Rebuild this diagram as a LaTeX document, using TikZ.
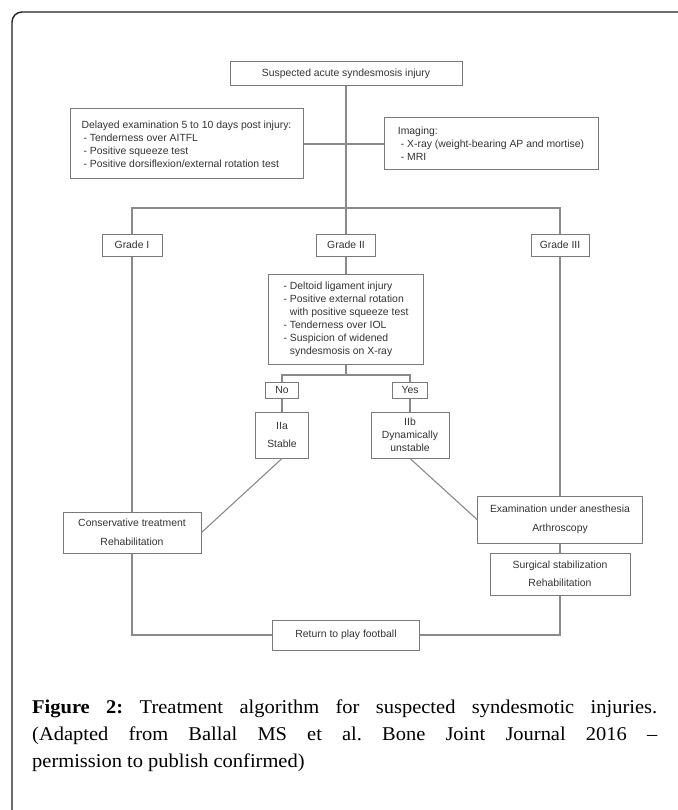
\documentclass[tikz,border=0pt]{standalone}
\usepackage{fontspec}
\setmainfont{Liberation Serif}
\newfontfamily\dfont{Liberation Sans}
\newfontfamily\capfont{Liberation Serif}[FakeStretch=1.05]
\definecolor{boxgray}{HTML}{7A7A7A}
\definecolor{linegray}{HTML}{8A8A8A}
\definecolor{txtgray}{HTML}{333333}
\definecolor{framec}{HTML}{222222}
\frenchspacing
\tikzset{
  box/.style={draw=boxgray, line width=1pt, fill=white, text=txtgray,
    font=\dfont\fontsize{10.4}{13}\selectfont, inner sep=0pt, align=center},
  lbox/.style={box, align=left},
  conn/.style={draw=linegray, line width=1.1pt},
  capline/.style={anchor=base west, inner sep=0pt, font=\capfont\fontsize{19.5}{27}\selectfont}
}
\begin{document}
\begin{tikzpicture}[x=1pt,y=1pt]
\useasboundingbox (0,0) rectangle (677,-810);
\fill[white] (0,0) rectangle (677,-810);
% frame
\draw[framec, line width=1.4pt, rounded corners=10pt] (678,-12) -- (12,-12) -- (12,-811);

% nodes
\node[box, minimum width=232pt, minimum height=24pt] (top) at (346,-74) {Suspected acute syndesmosis injury};
\node[lbox, minimum width=233pt, minimum height=70pt] (delay) at (186.5,-144) {Delayed examination 5 to 10 days post injury:\\\hspace{2pt}- Tenderness over AITFL\\\hspace{2pt}- Positive squeeze test\\\hspace{2pt}- Positive dorsiflexion/external rotation test};
\node[lbox, minimum width=214pt, minimum height=52pt] (img) at (491,-144) {Imaging:\\\hspace{3pt}- X-ray (weight-bearing AP and mortise)\\\hspace{3pt}- MRI};
\node[box, minimum width=60pt, minimum height=22pt] (g1) at (132,-245) {Grade I};
\node[box, minimum width=59pt, minimum height=22pt] (g2) at (346,-245) {Grade II};
\node[box, minimum width=58pt, minimum height=22pt] (g3) at (560,-245) {Grade III};
\node[lbox, minimum width=155pt, minimum height=90pt] (mid) at (346,-319) {- Deltoid ligament injury\\- Positive external rotation\\\phantom{- }with positive squeeze test\\- Tenderness over IOL\\- Suspicion of widened\\\phantom{- }syndesmosis on X-ray};
\node[box, minimum width=33pt, minimum height=16pt] (no) at (282,-390) {No};
\node[box, minimum width=35pt, minimum height=16pt] (yes) at (410,-390) {Yes};
\node[box, minimum width=53pt, minimum height=46pt] (iia) at (282,-435) {IIa\\[5.5pt]Stable};
\node[box, minimum width=78pt, minimum height=46pt] (iib) at (410,-435) {IIb\\Dynamically\\unstable};
\node[box, minimum width=138pt, minimum height=41pt] (cons) at (132,-532.5) {Conservative treatment\\[5.5pt]Rehabilitation};
\node[box, minimum width=165pt, minimum height=47pt] (exam) at (560,-519.5) {Examination under anesthesia\\[5.5pt]Arthroscopy};
\node[box, minimum width=140pt, minimum height=42pt] (surg) at (560,-574) {Surgical stabilization\\[5.5pt]Rehabilitation};
\node[box, minimum width=147pt, minimum height=30pt] (ret) at (346,-635) {Return to play football};

\coordinate (hl) at (346,-208);
\coordinate (br) at (346,-375);

% connectors
\draw[conn] (top.south) -- (g2.north);
\draw[conn] (delay.east) -- (delay.east -| top.south);
\draw[conn] (img.west) -- (img.west -| top.south);
\draw[conn] (g1.north) -- (g1.north |- hl) -- (g3.north |- hl) -- (g3.north);
\draw[conn] (g2.south) -- (mid.north);
\draw[conn] (mid.south) -- (br);
\draw[conn] (no.north) -- (no.north |- br) -- (yes.north |- br) -- (yes.north);
\draw[conn] (no.south) -- (iia.north);
\draw[conn] (yes.south) -- (iib.north);
\draw[conn] (iia.south) -- (cons.east);
\draw[conn] (iib.south) -- (exam.west);
\draw[conn] (g1.south) -- (cons.north);
\draw[conn] (g3.south) -- (exam.north);
\draw[conn] (exam.south) -- (surg.north);
\draw[conn] (cons.south) |- (ret.west);
\draw[conn] (surg.south) |- (ret.east);

% caption
\node[capline] (c1) at (32,-713) {\makebox[625pt][s]{\textbf{Figure 2:} Treatment algorithm for suspected syndesmotic injuries.}};
\node[capline] (c2) at (32,-740) {\makebox[625pt][s]{(Adapted from Ballal MS et al. Bone Joint Journal 2016 –}};
\node[capline] (c3) at (32,-767) {permission to publish confirmed)};
\end{tikzpicture}
\end{document}
